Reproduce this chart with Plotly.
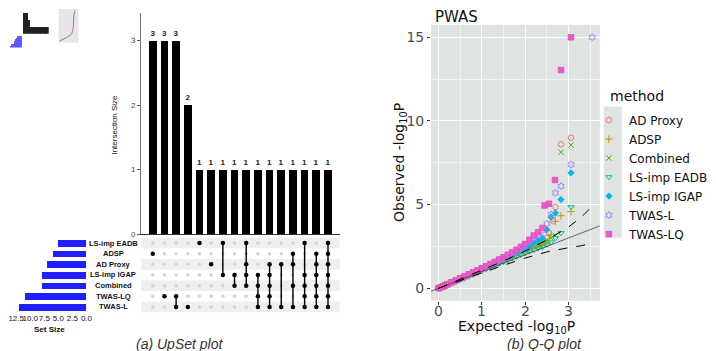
import plotly.graph_objects as go

W, H = 716, 351

def px(x):
    return x / W

def py(y):
    return 1 - y / H

# ---------------- UpSet data ----------------
set_names = ["LS-imp EADB", "ADSP", "AD Proxy", "LS-imp IGAP", "Combined", "TWAS-LQ", "TWAS-L"]
set_sizes = [5, 6, 7, 8, 8, 11, 12]
inter_sizes = [3, 3, 3, 2, 1, 1, 1, 1, 1, 1, 1, 1, 1, 1, 1, 1]
inter_members = [
    ["ADSP"],
    ["TWAS-LQ"],
    ["TWAS-LQ", "TWAS-L"],
    ["TWAS-L"],
    ["LS-imp EADB"],
    ["AD Proxy"],
    ["LS-imp EADB", "LS-imp IGAP"],
    ["LS-imp IGAP", "Combined"],
    ["LS-imp EADB", "AD Proxy", "LS-imp IGAP", "Combined"],
    ["LS-imp IGAP", "Combined", "TWAS-LQ", "TWAS-L"],
    ["AD Proxy", "LS-imp IGAP", "Combined", "TWAS-LQ", "TWAS-L"],
    ["AD Proxy", "TWAS-L"],
    ["ADSP", "AD Proxy", "Combined", "TWAS-L"],
    ["LS-imp EADB", "LS-imp IGAP", "Combined", "TWAS-LQ", "TWAS-L"],
    ["ADSP", "AD Proxy", "LS-imp IGAP", "Combined", "TWAS-LQ", "TWAS-L"],
    ["LS-imp EADB", "ADSP", "AD Proxy", "LS-imp IGAP", "Combined", "TWAS-LQ", "TWAS-L"],
]
set_size_ticks = [0, 2.5, 5, 7.5, 10, 12.5]
set_size_ticktext = ["0.0", "2.5", "5.0", "7.5", "10.0", "12.5"]

# ---------------- Q-Q data ----------------
methods = ["AD Proxy", "ADSP", "Combined", "LS-imp EADB", "LS-imp IGAP", "TWAS-L", "TWAS-LQ"]
colors = ["#F8766D", "#C49A00", "#53B400", "#00C094", "#00B6EB", "#A58AFF", "#FB61D7"]
symbols = ["circle-open", "cross-thin-open", "x-thin-open", "triangle-down-open",
           "diamond", "hexagram-open", "square-x"]
qq_xticks = [0, 1, 2, 3]
qq_yticks = [0, 5, 10, 15]

qq_body_x = [0.0, 0.05, 0.1, 0.15, 0.2, 0.3, 0.4, 0.5, 0.6, 0.7, 0.8, 0.9, 1.0, 1.1, 1.2,
             1.3, 1.4, 1.5, 1.6, 1.7, 1.8, 1.9, 2.0, 2.1, 2.2]

obs_ad_proxy = [0.0, 0.05, 0.11, 0.17, 0.23, 0.35, 0.46, 0.57, 0.68, 0.8, 0.91, 1.02, 1.13, 1.25,
                1.36, 1.48, 1.6, 1.72, 1.84, 1.96, 2.08, 2.2, 2.32, 2.45, 2.6]
obs_adsp = [0.0, 0.05, 0.1, 0.16, 0.21, 0.32, 0.43, 0.54, 0.64, 0.75, 0.86, 0.97, 1.08, 1.19,
            1.3, 1.41, 1.52, 1.63, 1.74, 1.85, 1.96, 2.07, 2.18, 2.3, 2.42]
obs_combined = [0.0, 0.06, 0.12, 0.18, 0.24, 0.36, 0.48, 0.6, 0.72, 0.84, 0.96, 1.08, 1.2, 1.32,
                1.45, 1.58, 1.72, 1.86, 1.98, 2.08, 2.18, 2.28, 2.38, 2.48, 2.58]
obs_eadb = [0.0, 0.05, 0.1, 0.15, 0.2, 0.31, 0.41, 0.52, 0.62, 0.73, 0.83, 0.94, 1.04, 1.15,
            1.25, 1.36, 1.47, 1.58, 1.69, 1.8, 1.9, 2.0, 2.1, 2.2, 2.3]
obs_igap = [0.0, 0.05, 0.11, 0.16, 0.22, 0.33, 0.45, 0.56, 0.67, 0.78, 0.9, 1.01, 1.12, 1.24,
            1.36, 1.48, 1.6, 1.73, 1.86, 1.99, 2.12, 2.26, 2.4, 2.55, 2.7]
obs_twas_l = [0.0, 0.05, 0.11, 0.16, 0.22, 0.34, 0.46, 0.58, 0.69, 0.81, 0.93, 1.05, 1.17, 1.29,
              1.41, 1.54, 1.67, 1.81, 1.95, 2.09, 2.24, 2.4, 2.58, 2.8, 3.05]
obs_twas_lq = [0.0, 0.05, 0.11, 0.17, 0.23, 0.35, 0.47, 0.59, 0.71, 0.83, 0.95, 1.07, 1.19, 1.31,
               1.44, 1.57, 1.71, 1.85, 2.0, 2.14, 2.3, 2.47, 2.65, 2.9, 3.15]

tail_x_ad_proxy = [2.3, 2.4, 2.5, 2.55, 2.65, 2.7, 2.83, 3.06]
tail_y_ad_proxy = [2.72, 2.85, 3.0, 3.3, 4.0, 4.85, 8.6, 9.0]
tail_x_adsp = [2.3, 2.4, 2.5, 2.6, 2.7, 2.83, 3.06]
tail_y_adsp = [2.5, 2.6, 2.75, 3.2, 4.0, 4.33, 4.58]
tail_x_combined = [2.3, 2.4, 2.5, 2.6, 2.7, 2.83, 3.06]
tail_y_combined = [2.65, 2.75, 2.88, 3.0, 3.15, 8.13, 8.56]
tail_x_eadb = [2.3, 2.4, 2.5, 2.6, 2.7, 2.83, 3.06]
tail_y_eadb = [2.38, 2.47, 2.6, 2.75, 3.0, 3.3, 4.85]
tail_x_igap = [2.3, 2.4, 2.5, 2.6, 2.7, 2.83, 3.06]
tail_y_igap = [2.85, 3.0, 3.5, 4.25, 4.5, 5.3, 6.9]
tail_x_twas_l = [2.3, 2.4, 2.5, 2.6, 2.7, 2.83, 3.06, 3.55]
tail_y_twas_l = [3.25, 3.45, 3.85, 4.4, 5.7, 6.1, 7.4, 15.0]
tail_x_twas_lq = [2.3, 2.4, 2.45, 2.55, 2.69, 2.83, 3.06]
tail_y_twas_lq = [3.35, 3.6, 4.95, 5.05, 6.47, 13.04, 15.0]

ci_x = [0.0, 0.5, 1.0, 1.5, 2.0, 2.5, 3.0, 3.3, 3.55]
ci_upper = [0.0, 0.53, 1.07, 1.63, 2.22, 2.88, 3.65, 4.25, 4.9]
ci_lower = [0.0, 0.47, 0.93, 1.37, 1.8, 2.17, 2.42, 2.54, 2.7]

qq_series = {
    "AD Proxy": (obs_ad_proxy, tail_x_ad_proxy, tail_y_ad_proxy),
    "ADSP": (obs_adsp, tail_x_adsp, tail_y_adsp),
    "Combined": (obs_combined, tail_x_combined, tail_y_combined),
    "LS-imp EADB": (obs_eadb, tail_x_eadb, tail_y_eadb),
    "LS-imp IGAP": (obs_igap, tail_x_igap, tail_y_igap),
    "TWAS-L": (obs_twas_l, tail_x_twas_l, tail_y_twas_l),
    "TWAS-LQ": (obs_twas_lq, tail_x_twas_lq, tail_y_twas_lq),
}

QQX = [-0.1775, 3.7275]
QQY = [-0.75, 15.75]

fig = go.Figure()

# ---------- UpSet: intersection bars ----------
cols = list(range(len(inter_sizes)))
fig.add_trace(go.Bar(x=cols, y=inter_sizes, width=0.66, marker=dict(color="black", line=dict(width=0)),
                     text=["<b>%d</b>" % v for v in inter_sizes], textposition="outside",
                     textfont=dict(size=8, color="#222", family="Liberation Sans"),
                     cliponaxis=False, showlegend=False, xaxis="x", yaxis="y"))

# ---------- UpSet: matrix ----------
nrow = len(set_names)
row_of = {name: nrow - 1 - i for i, name in enumerate(set_names)}
gx, gy, bx, by = [], [], [], []
for c, mem in enumerate(inter_members):
    for name in set_names:
        if name in mem:
            bx.append(c); by.append(row_of[name])
        else:
            gx.append(c); gy.append(row_of[name])
fig.add_trace(go.Scatter(x=gx, y=gy, mode="markers", marker=dict(size=3.5, color="#d4d4d4"),
                         showlegend=False, xaxis="x2", yaxis="y2", hoverinfo="skip"))
for c, mem in enumerate(inter_members):
    rows = [row_of[m] for m in mem]
    if len(rows) > 1:
        fig.add_trace(go.Scatter(x=[c, c], y=[min(rows), max(rows)], mode="lines",
                                 line=dict(color="black", width=1.4), showlegend=False,
                                 xaxis="x2", yaxis="y2", hoverinfo="skip"))
fig.add_trace(go.Scatter(x=bx, y=by, mode="markers", marker=dict(size=4.5, color="black"),
                         showlegend=False, xaxis="x2", yaxis="y2", hoverinfo="skip"))

# ---------- UpSet: set size bars ----------
fig.add_trace(go.Bar(y=[row_of[n] for n in set_names], x=set_sizes, orientation="h", width=0.62,
                     marker=dict(color="#1f1fff", line=dict(width=0)), showlegend=False,
                     xaxis="x3", yaxis="y3"))

# ---------- Q-Q ----------
for m, col, sym in zip(methods, colors, symbols):
    body, tx, ty = qq_series[m]
    xs = qq_body_x + tx
    ys = body + ty
    if sym == "square-x":
        mk = dict(symbol=sym, size=5.5, color=col, line=dict(color="#d94bb8", width=0.8))
    elif sym == "diamond":
        mk = dict(symbol=sym, size=5.5, color=col, line=dict(width=0))
    else:
        mk = dict(symbol=sym, size=5.5, color=col, line=dict(color=col, width=1))
    fig.add_trace(go.Scatter(x=xs, y=ys, mode="markers", marker=mk, name=m,
                             xaxis="x4", yaxis="y4", cliponaxis=False))

fig.add_trace(go.Scatter(x=QQX, y=QQX, mode="lines", line=dict(color="#444", width=0.8),
                         showlegend=False, xaxis="x4", yaxis="y4", hoverinfo="skip"))
fig.add_trace(go.Scatter(x=ci_x, y=ci_upper, mode="lines", line=dict(color="black", width=1, dash="dash"),
                         showlegend=False, xaxis="x4", yaxis="y4", hoverinfo="skip"))
fig.add_trace(go.Scatter(x=ci_x, y=ci_lower, mode="lines", line=dict(color="black", width=1, dash="dash"),
                         showlegend=False, xaxis="x4", yaxis="y4", hoverinfo="skip"))

# ---------- thumbnail (tiny inset) ----------
fig.add_trace(go.Bar(x=cols, y=inter_sizes, width=0.7, marker=dict(color="#222", line=dict(width=0)),
                     showlegend=False, xaxis="x5", yaxis="y5", hoverinfo="skip"))
fig.add_trace(go.Bar(y=[row_of[n] for n in set_names], x=set_sizes, orientation="h", width=0.7,
                     marker=dict(color="#5a5aff", line=dict(width=0)), showlegend=False,
                     xaxis="x6", yaxis="y6", hoverinfo="skip"))
fig.add_trace(go.Scatter(x=qq_body_x + tail_x_twas_lq, y=obs_twas_lq + tail_y_twas_lq, mode="lines",
                         line=dict(color="#c060b0", width=1), showlegend=False,
                         xaxis="x7", yaxis="y7", hoverinfo="skip"))

font_up = "Liberation Sans"
font_gg = "DejaVu Sans"

fig.update_layout(
    width=W, height=H, margin=dict(l=0, r=0, t=0, b=0),
    paper_bgcolor="white", plot_bgcolor="rgba(0,0,0,0)",
    bargap=0,
    xaxis=dict(domain=[px(133), px(333)], range=[-1, 16], anchor="y", showline=True, linecolor="#333",
               linewidth=1, showticklabels=False, ticks="", showgrid=False, zeroline=False),
    yaxis=dict(domain=[py(229.5), py(5)], range=[0, 3.427], anchor="x", tickvals=[0, 1, 2, 3],
               ticks="outside", ticklen=3, tickcolor="#555", tickfont=dict(size=8, color="#444", family=font_up),
               showline=True, linecolor="#777", linewidth=1, showgrid=False, zeroline=False),
    xaxis2=dict(domain=[px(133), px(333)], range=[-1, 16], anchor="y2", visible=False),
    yaxis2=dict(domain=[py(308.7), py(233)], range=[-0.5, 6.5], anchor="x2", visible=False),
    xaxis3=dict(domain=[0, px(80)], range=[13.78, -0.35], anchor="y3", tickvals=set_size_ticks,
                ticktext=set_size_ticktext, ticks="", tickangle=0, ticklabeloverflow="allow",
                tickfont=dict(size=8, color="#111", family=font_up), showgrid=False,
                zeroline=False, showline=False),
    yaxis3=dict(domain=[py(308.7), py(233)], range=[-0.5, 6.5], anchor="x3", visible=False),
    xaxis4=dict(domain=[px(425), px(595)], range=QQX, anchor="y4", tickvals=qq_xticks,
                ticks="outside", ticklen=3, tickcolor="#333", showticklabels=False,
                showgrid=True, gridcolor="white", gridwidth=1.1, zeroline=False, showline=False,
                minor=dict(tickvals=[0.5, 1.5, 2.5, 3.5], showgrid=True, gridcolor="#f2f4f3", gridwidth=0.5)),
    yaxis4=dict(domain=[py(297), py(17)], range=QQY, anchor="x4", tickvals=qq_yticks,
                ticks="outside", ticklen=3, tickcolor="#333",
                tickfont=dict(size=14, color="#4d4d4d", family=font_gg),
                showgrid=True, gridcolor="white", gridwidth=1.1, zeroline=False, showline=False,
                minor=dict(tickvals=[2.5, 7.5, 12.5], showgrid=True, gridcolor="#f2f4f3", gridwidth=0.5)),
    xaxis5=dict(domain=[px(14), px(40)], range=[-0.7, 15.7], anchor="y5", visible=False),
    yaxis5=dict(domain=[py(26), py(2)], range=[0, 3.4], anchor="x5", visible=False),
    xaxis6=dict(domain=[px(0), px(13)], range=[13, 0], anchor="y6", visible=False),
    yaxis6=dict(domain=[py(40), py(28)], range=[-0.5, 6.5], anchor="x6", visible=False),
    xaxis7=dict(domain=[px(50), px(70)], range=QQX, anchor="y7", visible=False),
    yaxis7=dict(domain=[py(35), py(1)], range=QQY, anchor="x7", visible=False),
    legend=dict(x=px(584), xanchor="left", y=py(99), yanchor="top", bgcolor="rgba(0,0,0,0)",
                font=dict(size=12, color="#111", family=font_gg), tracegroupgap=0),
)

shapes = []
for name in set_names[::2]:
    r = row_of[name]
    shapes.append(dict(type="rect", xref="x2 domain", yref="y2", x0=0, x1=1, y0=r - 0.5, y1=r + 0.5,
                       fillcolor="#efefef", line=dict(width=0), layer="below"))
shapes.append(dict(type="rect", xref="x4 domain", yref="y4 domain", x0=0, x1=1, y0=0, y1=1,
                   fillcolor="#dfe3e1", line=dict(width=0), layer="below"))
shapes.append(dict(type="rect", xref="x7 domain", yref="y7 domain", x0=0, x1=1, y0=0, y1=1,
                   fillcolor="#e4e6e8", line=dict(width=0), layer="below"))
# legend key background column
shapes.append(dict(type="rect", xref="paper", yref="paper", x0=px(599), x1=px(617),
                   y0=py(233), y1=py(100), fillcolor="#dfe3e1", line=dict(width=0), layer="below"))
fig.update_layout(shapes=shapes)

ann = []
for name in set_names:
    ann.append(dict(x=px(105), xref="paper", y=row_of[name], yref="y2", text="<b>%s</b>" % name,
                    showarrow=False, xanchor="center", yanchor="middle",
                    font=dict(size=7.5, color="#111", family=font_up)))
for t in qq_xticks:
    ann.append(dict(x=t, xref="x4", y=py(307), yref="paper", text=str(t), showarrow=False,
                    xanchor="center", yanchor="middle",
                    font=dict(size=14, color="#4d4d4d", family=font_gg)))
ann += [
    dict(x=px(41), y=py(326), xref="paper", yref="paper", text="<b>Set Size</b>", showarrow=False,
         xanchor="center", yanchor="middle", font=dict(size=8, color="#111", family=font_up)),
    dict(x=px(106), y=py(118), xref="paper", yref="paper", text="Intersection Size", showarrow=False,
         xanchor="center", yanchor="middle", textangle=-90,
         font=dict(size=8, color="#111", family=font_up)),
    dict(x=px(427), y=py(9), xref="paper", yref="paper", text="PWAS", showarrow=False,
         xanchor="left", yanchor="middle", font=dict(size=15, color="#111", family=font_gg)),
    dict(x=px(603), y=py(89), xref="paper", yref="paper", text="method", showarrow=False,
         xanchor="left", yanchor="middle", font=dict(size=14, color="#111", family=font_gg)),
    dict(x=px(511), y=py(324), xref="paper", yref="paper", text="Expected -log<sub>10</sub>P",
         showarrow=False, xanchor="center", yanchor="middle",
         font=dict(size=14, color="#111", family=font_gg)),
    dict(x=px(394), y=py(157), xref="paper", yref="paper", text="Observed -log<sub>10</sub>P",
         showarrow=False, xanchor="center", yanchor="middle", textangle=-90,
         font=dict(size=14, color="#111", family=font_gg)),
    dict(x=px(172), y=py(341), xref="paper", yref="paper", text="<i>(a) UpSet plot</i>",
         showarrow=False, xanchor="center", yanchor="middle",
         font=dict(size=14, color="#333", family="Liberation Sans")),
    dict(x=px(539), y=py(341), xref="paper", yref="paper", text="<i>(b) Q-Q plot</i>",
         showarrow=False, xanchor="center", yanchor="middle",
         font=dict(size=14, color="#333", family="Liberation Sans")),
]
fig.update_layout(annotations=ann)

fig.write_html("out.html")
